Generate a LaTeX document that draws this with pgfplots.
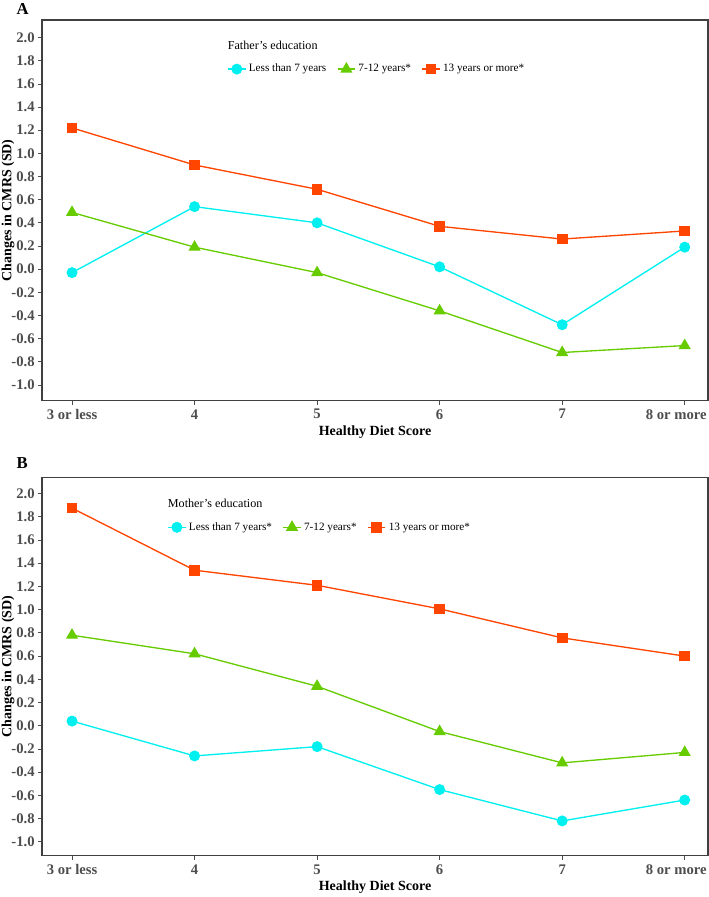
\documentclass[border=0pt]{standalone}
\usepackage{fontspec}
\setmainfont{Liberation Serif}
\usepackage{pgfplots}
\pgfplotsset{compat=1.18}

\definecolor{cyanline}{HTML}{00F0F0}
\definecolor{greenline}{HTML}{66CC00}
\definecolor{redline}{HTML}{FF4500}
\definecolor{tickgray}{HTML}{4D4D4D}

\pgfplotsset{
  panel/.style={
    scale only axis,
    width=499.5pt,
    xmin=-0.245, xmax=5.19,
    xtick={0,1,2,3,4,5},
    xticklabels={3 or less,4,5,6,7,\makebox[33pt][r]{8 or more}},
    ytick={-1,-0.8,...,2.01},
    ticklabel style={font=\fontsize{11}{13}\selectfont\bfseries, text=tickgray},
    yticklabel style={xshift=1pt, /pgf/number format/.cd,fixed,fixed zerofill,precision=1,assume math mode=true},
    tick align=outside,
    major tick length=3pt,
    tick style={color=tickgray, line width=0.6pt},
    axis line style={color=black!75, line width=0.8pt},
    xtick pos=bottom, ytick pos=left,
    xlabel={Healthy Diet Score},
    ylabel={Changes in CMRS (SD)},
    label style={font=\fontsize{10.5}{12}\selectfont\bfseries},
    xlabel style={at={(axis description cs:0.5,-0.083)}, anchor=center},
    ylabel style={at={(axis description cs:-0.051,0.5)}, anchor=center},
    legend columns=3,
    legend style={draw=none, fill=none, anchor=west,
      font=\fontsize{8.4}{10}\selectfont,
      /tikz/every even column/.append style={column sep=6pt}},
    legend image code/.code={
      \draw[mark repeat=2,mark phase=2] plot coordinates {(0cm,0cm) (0.23cm,0cm) (0.46cm,0cm)};},
  },
  cy/.style={color=cyanline, line width=1pt, mark=*, mark size=3.6pt},
  gr/.style={color=greenline, line width=1pt, mark=triangle*, mark size=4.3pt},
  rd/.style={color=redline, line width=1pt, mark=square*, mark size=3.5pt},
}

\begin{document}
\begin{tikzpicture}
\path[use as bounding box] (0,0) rectangle (531.75pt,-672.75pt);

\node[anchor=west, font=\fontsize{12.5}{14}\selectfont\bfseries] at (9pt,-7pt) {A};
\begin{axis}[panel, at={(31.5pt,-15pt)}, anchor=north west, height=285.5pt,
  ymin=-1.136, ymax=2.152,
  legend style={at={(rel axis cs:0.272,0.871)}}]
\addplot[cy] coordinates {(0,-0.03)(1,0.54)(2,0.40)(3,0.02)(4,-0.48)(5,0.19)};
\addplot[gr] coordinates {(0,0.49)(1,0.19)(2,-0.03)(3,-0.36)(4,-0.72)(5,-0.66)};
\addplot[rd] coordinates {(0,1.22)(1,0.90)(2,0.69)(3,0.37)(4,0.26)(5,0.33)};
\legend{Less than 7 years,7-12 years*,13 years or more*}
\node[anchor=west, font=\fontsize{9.1}{11}\selectfont] at (rel axis cs:0.272,0.934) {Father's education};
\end{axis}

\node[anchor=west, font=\fontsize{12.5}{14}\selectfont\bfseries] at (9pt,-347.5pt) {B};
\begin{axis}[panel, at={(31.5pt,-358pt)}, anchor=north west, height=283.8pt,
  ymin=-1.12, ymax=2.14,
  legend style={at={(rel axis cs:0.182,0.868)}}]
\addplot[cy] coordinates {(0,0.04)(1,-0.26)(2,-0.18)(3,-0.55)(4,-0.82)(5,-0.64)};
\addplot[gr] coordinates {(0,0.78)(1,0.62)(2,0.34)(3,-0.05)(4,-0.32)(5,-0.23)};
\addplot[rd] coordinates {(0,1.875)(1,1.34)(2,1.21)(3,1.007)(4,0.757)(5,0.60)};
\legend{Less than 7 years*,7-12 years*,13 years or more*}
\node[anchor=west, font=\fontsize{9.1}{11}\selectfont] at (rel axis cs:0.182,0.931) {Mother's education};
\end{axis}
\end{tikzpicture}
\end{document}
